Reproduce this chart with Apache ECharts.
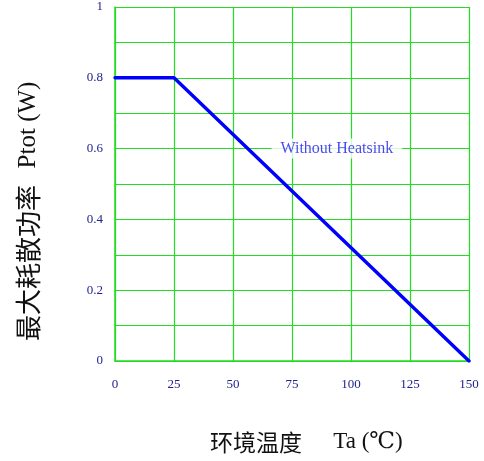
<!DOCTYPE html>
<html>
<head>
<meta charset="utf-8">
<script src="https://cdn.jsdelivr.net/npm/echarts@6/dist/echarts.min.js"></script>
<style>html,body{margin:0;padding:0;background:#fff}#c{width:484px;height:461px}</style>
</head>
<body>
<div id="c"></div>
<script>
const temps = [0, 25, 150];
const power = [0.8, 0.8, 0];
const xTicks = [0, 25, 50, 75, 100, 125, 150];
const curveLabel = 'Without Heatsink';
const labelPos = [94, 0.6];

const chart = echarts.init(document.getElementById('c'));
const serif = '"Liberation Serif", "DejaVu Serif", serif';
const green = '#22dd22';
const tickBlue = '#23238e';
chart.setOption({
  animation: false,
  backgroundColor: '#fff',
  grid: { left: 115, right: 15, top: 7, bottom: 100 },
  xAxis: {
    type: 'value', min: 0, max: 150, interval: 25,
    axisLine: { show: true, lineStyle: { color: green, width: 1.5 } },
    axisTick: { show: false },
    splitLine: { show: true, lineStyle: { color: green, width: 1.2 } },
    axisLabel: { color: tickBlue, fontFamily: serif, fontSize: 13, margin: 17 }
  },
  yAxis: {
    type: 'value', min: 0, max: 1, interval: 0.2,
    axisLine: { show: true, lineStyle: { color: green, width: 1.5 } },
    axisTick: { show: false },
    splitLine: { show: true, lineStyle: { color: green, width: 1.2 } },
    minorTick: { show: false, splitNumber: 2 },
    minorSplitLine: { show: true, lineStyle: { color: green, width: 1.2 } },
    axisLabel: { color: tickBlue, fontFamily: serif, fontSize: 13, margin: 12 }
  },
  series: [
    {
      type: 'line',
      data: temps.map((t, i) => [t, power[i]]),
      symbol: 'none',
      lineStyle: { color: '#0000ff', width: 3.4, cap: 'round' },
      z: 3
    },
    {
      type: 'scatter',
      data: [labelPos],
      symbolSize: 0,
      label: {
        show: true, position: 'inside', formatter: curveLabel,
        color: '#1a1aee', fontFamily: serif, fontSize: 16,
        backgroundColor: '#fff', padding: [2, 9]
      },
      z: 4
    }
  ],
  graphic: [
    { type: 'text', x: 256, y: 442, style: { text: '环境温度', font: '23px "Noto Sans CJK SC"', fill: '#111', align: 'center', verticalAlign: 'middle' } },
    { type: 'text', x: 368, y: 442, style: { text: 'Ta (℃)', font: '23px ' + serif, fill: '#111', align: 'center', verticalAlign: 'middle' } },
    { type: 'text', x: 28, y: 263, rotation: Math.PI / 2, style: { text: '最大耗散功率', font: '26px "Noto Sans CJK SC"', fill: '#111', align: 'center', verticalAlign: 'middle' } },
    { type: 'text', x: 28, y: 125, rotation: Math.PI / 2, style: { text: 'Ptot (W)', font: '25px ' + serif, fill: '#111', align: 'center', verticalAlign: 'middle' } }
  ]
});
</script>
</body>
</html>
